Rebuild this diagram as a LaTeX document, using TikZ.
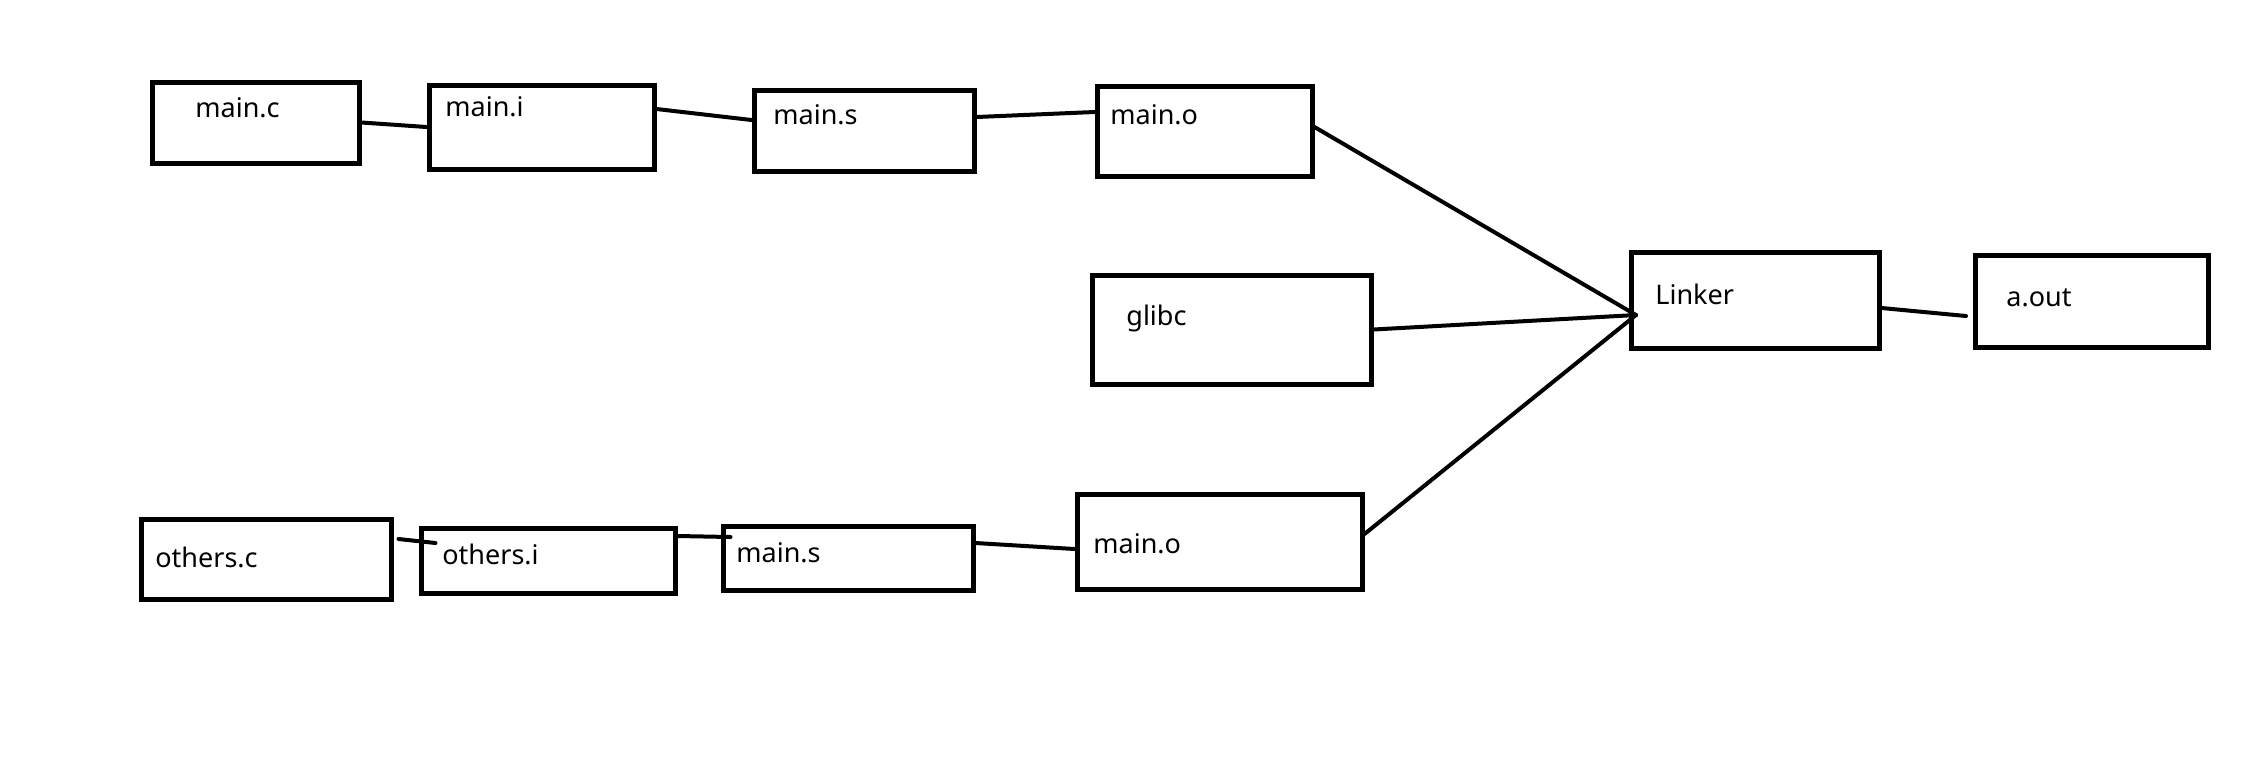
\documentclass[tikz,border=0pt]{standalone}
\usepackage{fontspec}
\setmainfont{Noto Sans}
\usetikzlibrary{calc}
\begin{document}
\begin{tikzpicture}[x=0.5pt,y=-0.5pt,
  box/.style={draw=black,line width=2.5pt,inner sep=0pt,fill=white},
  lbl/.style={anchor=base west,inner sep=0pt,font=\fontsize{13.5pt}{16pt}\selectfont},
  conn/.style={draw=black,line width=2pt,line cap=round}]
\useasboundingbox[fill=white] (0,0) rectangle (2264,767);
% boxes
\node[box,minimum width=103.5pt,minimum height=40.5pt] (mc) at (255.5,122.5) {};
\node[box,minimum width=112.5pt,minimum height=42pt]   (mi) at (541.5,127) {};
\node[box,minimum width=110pt,minimum height=40.5pt]   (ms) at (864,130.5) {};
\node[box,minimum width=107.5pt,minimum height=45pt]   (mo) at (1204.5,131) {};
\node[box,minimum width=139.5pt,minimum height=54.5pt] (gl) at (1231.5,329.5) {};
\node[box,minimum width=124pt,minimum height=48pt]     (lk) at (1755,300) {};
\node[box,minimum width=116.5pt,minimum height=46pt]   (ao) at (2091.5,301) {};
\node[box,minimum width=125pt,minimum height=40pt]     (oc) at (266,559) {};
\node[box,minimum width=127pt,minimum height=32.5pt]   (oi) at (548,560.5) {};
\node[box,minimum width=125pt,minimum height=32pt]     (bs) at (848,558) {};
\node[box,minimum width=142.5pt,minimum height=47.5pt] (bo) at (1219.5,541.5) {};
% labels
\node[lbl] (tmc) at (195,117) {main.c};
\node[lbl] (tmi) at (445,116) {main.i};
\node[lbl] (tms) at (773,124) {main.s};
\node[lbl] (tmo) at (1110,124) {main.o};
\node[lbl] (tgl) at (1126,325) {glibc};
\node[lbl] (tlk) at (1655,304) {Linker};
\node[lbl] (tao) at (2006,306) {a.out};
\node[lbl] (toc) at (155,567) {others.c};
\node[lbl] (toi) at (442,564) {others.i};
\node[lbl] (tbs) at (736,562) {main.s};
\node[lbl] (tbo) at (1093,553) {main.o};
% junction at linker
\coordinate (J) at (1636,315);
\coordinate (aoin) at (1966,316);
% connectors
\draw[conn] (mc.east) -- (mi.west);
\draw[conn] (mi.east |- 0,109) -- (ms.west |- 0,120);
\draw[conn] (ms.east |- 0,117) -- (mo.west |- 0,112);
\draw[conn] (mo.east |- 0,127) -- (J);
\draw[conn] (gl.east) -- (J);
\draw[conn] (bo.east |- 0,534) -- (J);
\draw[conn] (lk.east |- 0,308) -- (aoin);
\draw[conn] ($(oc.east |- 0,539)+(5,0)$) -- ($(oi.west |- 0,543)+(17,0)$);
\draw[conn] (oi.east |- 0,536) -- ($(bs.west |- 0,537)+(10,0)$);
\draw[conn] (bs.east |- 0,543) -- (bo.west |- 0,549);
\end{tikzpicture}
\end{document}
